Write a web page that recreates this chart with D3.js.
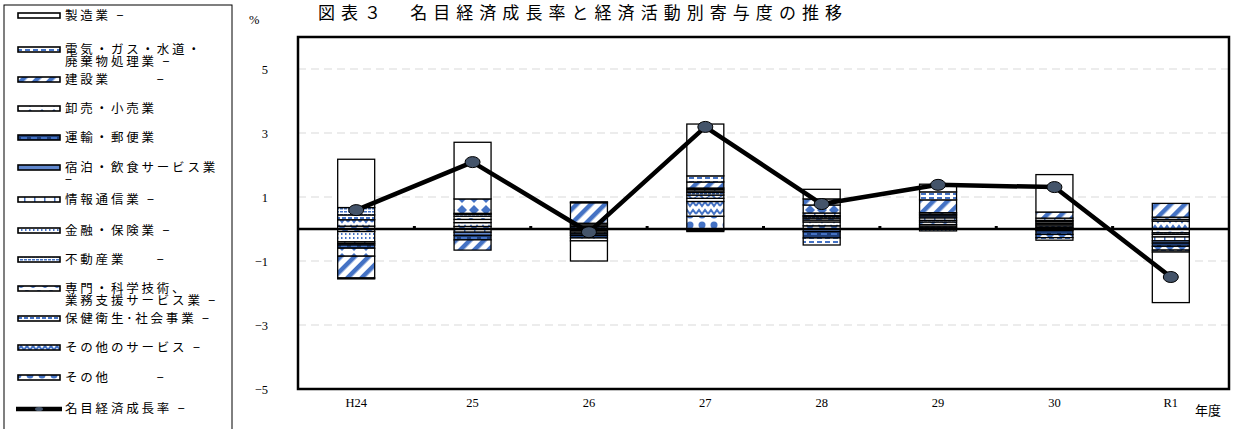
<!DOCTYPE html>
<html>
<head>
<meta charset="utf-8">
<script src="https://cdn.jsdelivr.net/npm/d3@7"></script>
<style>
  html, body { margin: 0; padding: 0; background: #fff; }
  svg { display: block; }
  text { font-family: "Noto Sans CJK JP", "Noto Sans", sans-serif; }
  .num { font-family: "Liberation Serif", "DejaVu Serif", serif; }
</style>
</head>
<body>
<svg id="chart" width="1248" height="429"></svg>
<script>
// Fiscal years on the category axis
const years = ["H24", "25", "26", "27", "28", "29", "30", "R1"];

// Contributions by economic activity (percentage points)
const other        = [0.09, 0.08, 0.03, 0.40, 0.10, 0.04, 0.05, -0.12];
const otherService = [0.20, 0.12, 0.05, 0.46, 0.12, 0.05, 0.05, 0.25];
const health       = [0.15, 0.10, 0.05, 0.10, 0.06, 0.05, 0.05, 0.05];
const professional = [-0.08, 0.10, 0.05, 0.10, 0.06, 0.08, 0.04, 0.07];
const realEstate   = [0.23, 0.06, -0.05, 0.08, 0.05, 0.05, 0.05, -0.05];
const finance      = [-0.32, 0.03, -0.05, 0.05, 0.03, -0.06, 0.03, -0.08];
const infoComm     = [-0.05, -0.10, -0.05, 0.05, 0.08, 0.08, 0.07, -0.12];
const lodging      = [-0.05, -0.10, -0.05, 0.04, -0.08, 0.06, -0.05, -0.07];
const transport    = [-0.10, -0.14, -0.08, -0.04, -0.20, 0.05, -0.12, -0.10];
const trade        = [-0.25, 0.45, -0.09, -0.04, 0.25, 0.05, -0.10, -0.12];
const construction = [-0.68, -0.32, 0.64, 0.19, 0.19, 0.40, 0.19, 0.43];
const utilities    = [-0.03, 0.00, 0.03, 0.19, -0.22, 0.25, -0.08, -0.06];
const manufacturing= [1.51, 1.77, -0.63, 1.62, 0.30, 0.24, 1.17, -1.58];

// Nominal economic growth rate (%)
const growth = [0.59, 2.09, -0.10, 3.19, 0.78, 1.38, 1.31, -1.50];

// Y axis ticks
const yTicks = [5, 3, 1, -1, -3, -5];

// Series in stacking order (nearest zero first)
const seriesKeys = ["other", "otherService", "health", "professional", "realEstate",
  "finance", "infoComm", "lodging", "transport", "trade", "construction",
  "utilities", "manufacturing"];
const seriesValues = { other, otherService, health, professional, realEstate, finance,
  infoComm, lodging, transport, trade, construction, utilities, manufacturing };

// Legend entries, top to bottom
const legendLabels = [
  ["manufacturing", ["製造業 −"]],
  ["utilities", ["電気・ガス・水道・", "廃棄物処理業 −"]],
  ["construction", ["建設業　　　−"]],
  ["trade", ["卸売・小売業"]],
  ["transport", ["運輸・郵便業"]],
  ["lodging", ["宿泊・飲食サービス業", "−"]],
  ["infoComm", ["情報通信業 −"]],
  ["finance", ["金融・保険業 −"]],
  ["realEstate", ["不動産業　　−"]],
  ["professional", ["専門・科学技術、", "業務支援サービス業 −"]],
  ["health", ["保健衛生･社会事業 −"]],
  ["otherService", ["その他のサービス −"]],
  ["other", ["その他　　　−"]],
  ["growth", ["名目経済成長率 −"]]
];

const BLUE = "#4472C4";
const svg = d3.select("#chart");
svg.append("rect").attr("width", 1248).attr("height", 429).attr("fill", "#fff");

// ---- fill patterns ----
const defs = svg.append("defs");
function pattern(id, w, h, draw, transform) {
  const p = defs.append("pattern").attr("id", id)
    .attr("patternUnits", "userSpaceOnUse").attr("width", w).attr("height", h);
  if (transform) p.attr("patternTransform", transform);
  p.append("rect").attr("width", w).attr("height", h).attr("fill", "#fff");
  draw(p);
}
pattern("p-manufacturing", 4, 4, () => {});
pattern("p-utilities", 8, 4, p => p.append("rect").attr("x", 1).attr("y", 1).attr("width", 5).attr("height", 2).attr("fill", BLUE));
pattern("p-construction", 10, 10, p => p.append("rect").attr("width", 4.5).attr("height", 10).attr("fill", BLUE), "rotate(45)");
pattern("p-trade", 12, 12, p => p.append("path").attr("d", "M6,1 L11,6 L6,11 L1,6 Z").attr("fill", BLUE));
pattern("p-transport", 10, 4, p => { p.append("rect").attr("width", 10).attr("height", 4).attr("fill", "#1f3f7a"); p.append("rect").attr("x", 1).attr("y", 1).attr("width", 6).attr("height", 2).attr("fill", BLUE); });
pattern("p-lodging", 8, 4, p => p.append("rect").attr("width", 8).attr("height", 4).attr("fill", BLUE).attr("opacity", 0.85));
pattern("p-infoComm", 10, 6, p => p.append("rect").attr("x", 4).attr("y", 0).attr("width", 1.5).attr("height", 6).attr("fill", BLUE));
pattern("p-finance", 4, 4, p => p.append("rect").attr("x", 1).attr("y", 1).attr("width", 1.5).attr("height", 2).attr("fill", BLUE));
pattern("p-realEstate", 4, 3, p => p.append("rect").attr("x", 0).attr("y", 1).attr("width", 3).attr("height", 1.5).attr("fill", BLUE));
pattern("p-professional", 12, 8, p => p.append("path").attr("d", "M0,5 Q3,1 6,5 T12,5").attr("fill", "none").attr("stroke", BLUE).attr("stroke-width", 2));
pattern("p-health", 6, 5, p => p.append("rect").attr("x", 0).attr("y", 2).attr("width", 4).attr("height", 2).attr("fill", BLUE));
pattern("p-otherService", 12, 8, p => p.append("path").attr("d", "M0,6 L3,2 L6,6 L9,2 L12,6").attr("fill", "none").attr("stroke", BLUE).attr("stroke-width", 2));
pattern("p-other", 12, 10, p => p.append("circle").attr("cx", 6).attr("cy", 5).attr("r", 3.5).attr("fill", BLUE));

// ---- scales ----
const plot = { left: 298, right: 1229, top: 37, bottom: 389 };
const x = d3.scaleBand().domain(years).range([plot.left, plot.right]);
const y = d3.scaleLinear().domain([-5, 6]).range([plot.bottom, plot.top]);
const barW = 37;

// gridlines
svg.append("g").selectAll("line").data(yTicks.filter(t => t !== -5))
  .join("line")
  .attr("x1", plot.left).attr("x2", plot.right)
  .attr("y1", d => y(d)).attr("y2", d => y(d))
  .attr("stroke", "#d9d9d9").attr("stroke-width", 1).attr("stroke-dasharray", "8,5");

// stacked bars
const rows = years.map((yr, i) => {
  const r = { year: yr };
  seriesKeys.forEach(k => r[k] = seriesValues[k][i]);
  return r;
});
const stack = d3.stack().keys(seriesKeys).offset(d3.stackOffsetDiverging)(rows);
const gBars = svg.append("g");
stack.forEach(layer => {
  gBars.append("g").selectAll("rect").data(layer.filter(d => Math.abs(d[1] - d[0]) > 1e-9))
    .join("rect")
    .attr("x", d => x(d.data.year) + x.bandwidth() / 2 - barW / 2)
    .attr("width", barW)
    .attr("y", d => y(Math.max(d[0], d[1])))
    .attr("height", d => Math.abs(y(d[0]) - y(d[1])))
    .attr("fill", `url(#p-${layer.key})`)
    .attr("stroke", "#000").attr("stroke-width", 1.3);
});

// zero line and category ticks
svg.append("line").attr("x1", plot.left).attr("x2", plot.right)
  .attr("y1", y(0)).attr("y2", y(0)).attr("stroke", "#000").attr("stroke-width", 2.5);
svg.append("g").selectAll("rect").data(years.slice(1))
  .join("rect")
  .attr("x", d => x(d) - 1.5).attr("y", y(0) - 3).attr("width", 3).attr("height", 3).attr("fill", "#000");

// growth line
const line = d3.line().x((d, i) => x(years[i]) + x.bandwidth() / 2).y(d => y(d));
svg.append("path").datum(growth).attr("d", line)
  .attr("fill", "none").attr("stroke", "#000").attr("stroke-width", 4.5).attr("stroke-linejoin", "round");
svg.append("g").selectAll("ellipse").data(growth).join("ellipse")
  .attr("cx", (d, i) => x(years[i]) + x.bandwidth() / 2).attr("cy", d => y(d))
  .attr("rx", 7.5).attr("ry", 5.5).attr("fill", "#44546A").attr("stroke", "#000").attr("stroke-width", 1);

// plot frame
svg.append("rect").attr("x", plot.left).attr("y", plot.top)
  .attr("width", plot.right - plot.left).attr("height", plot.bottom - plot.top)
  .attr("fill", "none").attr("stroke", "#000").attr("stroke-width", 2.5);

// y axis labels
const yAxis = d3.axisLeft(y).tickValues(yTicks).tickSize(0).tickPadding(30)
  .tickFormat(d => d < 0 ? "−" + Math.abs(d) : String(d));
const gy = svg.append("g").attr("transform", `translate(${plot.left},0)`).call(yAxis);
gy.select(".domain").remove();
gy.selectAll("text").attr("class", "num").attr("font-size", 12.5).attr("fill", "#000");
svg.append("text").attr("class", "num").attr("x", 249).attr("y", 24).attr("font-size", 12.5).text("%");

// x axis labels
const xAxis = d3.axisBottom(x).tickSize(0);
const gx = svg.append("g").attr("transform", `translate(0,${plot.bottom})`).call(xAxis);
gx.select(".domain").remove();
gx.selectAll("text").attr("class", "num").attr("font-size", 12.5).attr("fill", "#000").attr("dy", "1.2em");
svg.append("text").attr("x", 1195).attr("y", 415).attr("font-size", 13).text("年度");

// title
svg.append("text").attr("x", 318).attr("y", 19).attr("font-size", 17)
  .attr("textLength", 524).attr("lengthAdjust", "spacing")
  .text("図表３　名目経済成長率と経済活動別寄与度の推移");

// legend
svg.append("rect").attr("x", 4).attr("y", 5).attr("width", 228).attr("height", 440)
  .attr("fill", "#fff").attr("stroke", "#000").attr("stroke-width", 1);
const legendY = [16, 50, 80, 109, 138, 168, 200, 231, 260, 289, 319, 348, 378, 409];
legendLabels.forEach(([key, lines], i) => {
  const ly = legendY[i];
  if (key === "growth") {
    svg.append("line").attr("x1", 16).attr("x2", 62).attr("y1", ly).attr("y2", ly)
      .attr("stroke", "#000").attr("stroke-width", 4.5);
    svg.append("ellipse").attr("cx", 39).attr("cy", ly).attr("rx", 4).attr("ry", 2)
      .attr("fill", "#44546A");
  } else {
    svg.append("rect").attr("x", 18).attr("y", ly - 3).attr("width", 42).attr("height", 5)
      .attr("fill", `url(#p-${key})`).attr("stroke", "#000").attr("stroke-width", 1.6);
  }
  // each wrapped line is its own text element
  lines.forEach((s, j) => {
    svg.append("text").attr("x", 65).attr("y", ly + 4 + j * 11.5)
      .attr("font-size", 12.5).attr("letter-spacing", 2.8)
      .style("white-space", "pre").text(s);
  });
});
</script>
</body>
</html>
